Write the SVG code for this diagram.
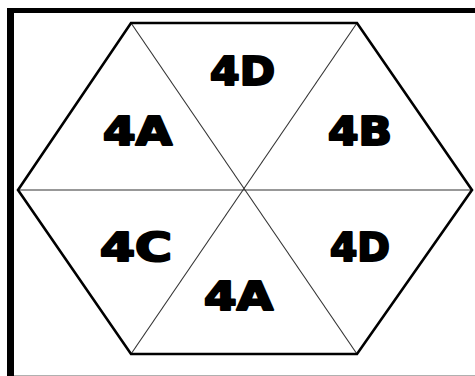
<svg xmlns="http://www.w3.org/2000/svg" width="475" height="376" viewBox="0 0 475 376">
<style>
.lbl{font-family:"DejaVu Sans","Liberation Sans",sans-serif;font-weight:bold;font-size:39px;fill:#000;stroke:#000;stroke-width:2.2;stroke-linejoin:round}
.spoke{stroke:#333;stroke-width:1.1;fill:none}
</style>
<rect width="475" height="376" fill="#fff"/>
<g id="frame">
<rect x="7" y="8" width="468" height="5" fill="#000"/>
<rect x="7" y="8" width="7" height="368" fill="#000"/>
<line x1="14" y1="375.5" x2="475" y2="375.5" stroke="#b0b0b0" stroke-width="1"/>
</g>
<g id="connectors">
<line class="spoke" x1="131" y1="23" x2="357" y2="354"/>
<line class="spoke" x1="357" y1="23" x2="131" y2="354"/>
<line class="spoke" x1="18" y1="190" x2="472" y2="190"/>
</g>
<g id="hexagon">
<polygon points="131,23 357,23 472,190 357,354 131,354 18,190" fill="none" stroke="#000" stroke-width="2.6" stroke-linejoin="miter"/>
</g>
<g id="n1"><text class="lbl" x="210" y="85" textLength="65" lengthAdjust="spacingAndGlyphs">4D</text></g>
<g id="n2"><text class="lbl" x="103" y="145" textLength="69" lengthAdjust="spacingAndGlyphs">4A</text></g>
<g id="n3"><text class="lbl" x="328" y="145" textLength="64" lengthAdjust="spacingAndGlyphs">4B</text></g>
<g id="n4"><text class="lbl" x="100" y="261" textLength="72" lengthAdjust="spacingAndGlyphs">4C</text></g>
<g id="n5"><text class="lbl" x="330" y="261" textLength="60" lengthAdjust="spacingAndGlyphs">4D</text></g>
<g id="n6"><text class="lbl" x="204" y="310" textLength="69" lengthAdjust="spacingAndGlyphs">4A</text></g>
</svg>
